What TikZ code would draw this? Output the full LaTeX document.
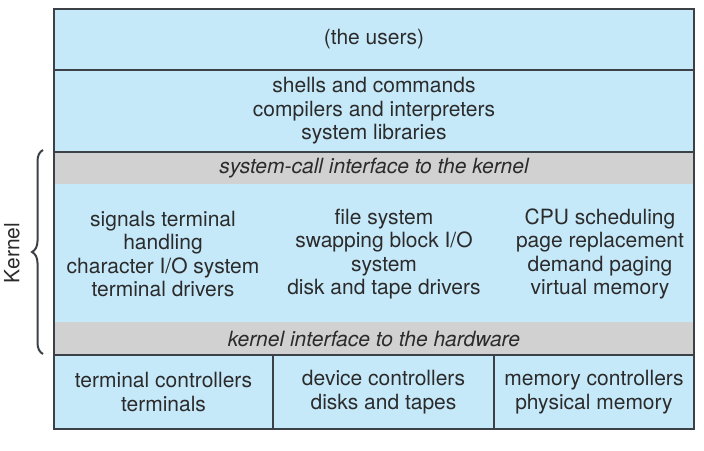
\documentclass[tikz,border=0pt]{standalone}
\usepackage{fontspec}
\setmainfont{TeX Gyre Heros}
\usetikzlibrary{positioning, decorations.pathreplacing}
\definecolor{layerblue}{HTML}{C6E9FA}
\definecolor{ifacegray}{HTML}{D1D1D1}
\definecolor{rulegray}{HTML}{3C4147}
\definecolor{inkgray}{HTML}{2B2B2B}

\begin{document}
\begin{tikzpicture}[x=1pt, y=-1pt,
    font=\fontsize{21}{23.5}\selectfont,
    layer/.style={fill=layerblue, inner sep=0pt, outer sep=0pt, minimum width=640pt, align=center, text=inkgray},
    iface/.style={fill=ifacegray, inner sep=0pt, outer sep=0pt, minimum width=640pt, text=inkgray, font=\fontsize{21}{23.5}\selectfont\itshape},
    cell/.style={fill=layerblue, inner sep=0pt, outer sep=0pt, minimum height=74pt, align=center, text=inkgray},
    txt/.style={align=center, text=inkgray, inner sep=0pt},
    rule/.style={rulegray, line width=2pt},
    divider/.style={rulegray, line width=1.5pt}]
    \useasboundingbox (0,0) rectangle (704,450);

    % User side
    \node[layer, minimum height=61pt] (users) at (374,39.5) {(the users)};
    \node[layer, minimum height=82pt] (shells) at (374,111)
        {shells and commands\\compilers and interpreters\\system libraries};

    % Kernel
    \node[iface, minimum height=32pt] (syscall) at (374,168) {system-call interface to the kernel};
    \node[layer, minimum height=138pt] (kern) at (374,253) {};
    \node[txt] (kleft) at (163,254) {signals terminal\\handling\\character I/O system\\terminal drivers};
    \node[txt] (kmid) at (384,254) {file system\\swapping block I/O\\system\\disk and tape drivers};
    \node[txt] (kright) at (600,254) {CPU scheduling\\page replacement\\demand paging\\virtual memory};
    \node[iface, minimum height=33pt] (hw) at (374,338.5) {kernel interface to the hardware};

    % Hardware
    \node[cell, minimum width=219pt] (termctl) at (163.5,392) {terminal controllers\\terminals};
    \node[cell, minimum width=221pt] (devctl) at (383.5,392) {device controllers\\disks and tapes};
    \node[cell, minimum width=200pt] (memctl) at (594,392) {memory controllers\\physical memory};

    % Rules
    \draw[rule] (users.north west) rectangle (memctl.south east);
    \draw[rule] (users.south west) -- (users.south east);
    \draw[rule] (shells.south west) -- (shells.south east);
    \draw[rule] (hw.south west) -- (hw.south east);
    \draw[divider] (termctl.north east) -- (termctl.south east);
    \draw[divider] (devctl.north east) -- (devctl.south east);

    % Kernel brace
    \coordinate (ktop) at (43,150);
    \coordinate (kbot) at (43,354);
    \draw[rulegray, line width=2pt, decorate, decoration={brace, amplitude=11pt}] (kbot) -- (ktop);
    \node[rotate=90, text=inkgray] (kernlbl) at (12,253) {Kernel};
\end{tikzpicture}
\end{document}
